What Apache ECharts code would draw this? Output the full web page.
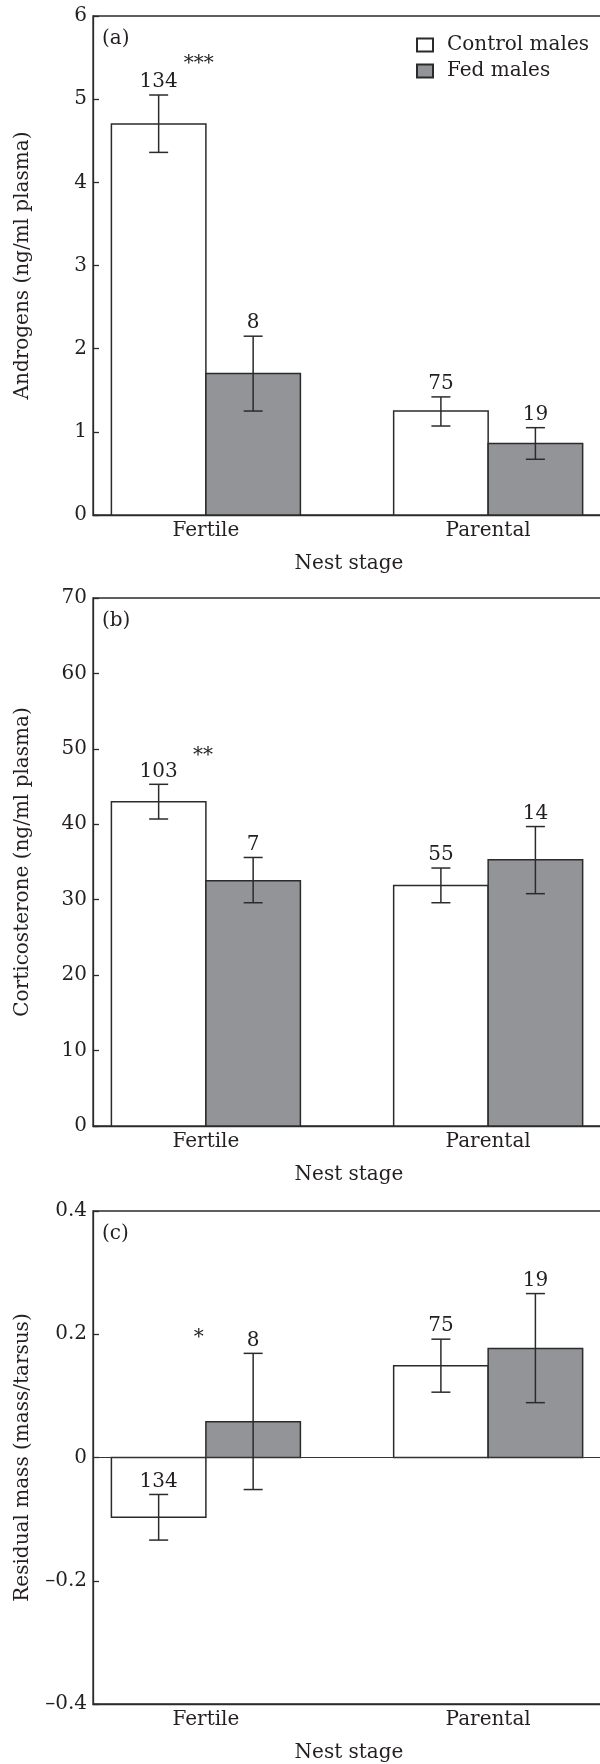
<!DOCTYPE html>
<html><head><meta charset="utf-8">
<script src="https://cdn.jsdelivr.net/npm/echarts@6/dist/echarts.min.js"></script>
<style>html,body{margin:0;padding:0;background:#fff}#c{width:600px;height:1764px}</style>
</head><body><div id="c"></div>
<script>
// ---------- data ----------
const categories = ['Fertile', 'Parental'];
const seriesNames = ['Control males', 'Fed males'];

const androgenControl = [4.70, 1.25];
const androgenControlErr = [[4.36, 5.05], [1.07, 1.42]];
const androgenFed = [1.70, 0.86];
const androgenFedErr = [[1.25, 2.15], [0.67, 1.05]];
const androgenControlN = [134, 75];
const androgenFedN = [8, 19];
const androgenTicks = [0, 1, 2, 3, 4, 5, 6];

const corticoControl = [43.0, 31.9];
const corticoControlErr = [[40.7, 45.3], [29.6, 34.2]];
const corticoFed = [32.5, 35.3];
const corticoFedErr = [[29.6, 35.6], [30.8, 39.7]];
const corticoControlN = [103, 55];
const corticoFedN = [7, 14];
const corticoTicks = [0, 10, 20, 30, 40, 50, 60, 70];

const massControl = [-0.097, 0.149];
const massControlErr = [[-0.134, -0.060], [0.106, 0.192]];
const massFed = [0.058, 0.177];
const massFedErr = [[-0.052, 0.169], [0.089, 0.266]];
const massControlN = [134, 75];
const massFedN = [8, 19];
const massTicks = [-0.4, -0.2, 0, 0.2, 0.4];

const panelLabels = ['(a)', '(b)', '(c)'];
const yTitles = ['Androgens (ng/ml plasma)', 'Corticosterone (ng/ml plasma)', 'Residual mass (mass/tarsus)'];
const xTitle = 'Nest stage';
const sigText = ['***', '**', '*'];
const sigAt = [[0.975, 5.49], [0.99, 49.7], [0.975, 0.202]];

// ---------- style ----------
const FONT = 'DejaVu Serif';
const FS = 20;
const INK = '#231f20';
const LINE = '#2b2b2b';
const GRAY = '#939498';
const BAR_W = 94.5;
const CAP = 9.5;
const X_MIN = 0.6, X_MAX = 2.414;
const grids = [
  { left: 93, top: 16, width: 512, height: 499 },
  { left: 93, top: 598, width: 512, height: 528 },
  { left: 93, top: 1211, width: 512, height: 493 }
];

const panels = [
  { c: androgenControl, ce: androgenControlErr, f: androgenFed, fe: androgenFedErr, cn: androgenControlN, fn: androgenFedN, ticks: androgenTicks },
  { c: corticoControl, ce: corticoControlErr, f: corticoFed, fe: corticoFedErr, cn: corticoControlN, fn: corticoFedN, ticks: corticoTicks },
  { c: massControl, ce: massControlErr, f: massFed, fe: massFedErr, cn: massControlN, fn: massFedN, ticks: massTicks }
];

function fmtTick(v) {
  if (v === 0) return '0';
  const s = String(Math.abs(Math.round(v * 1000) / 1000));
  return v < 0 ? '\u2013' + s : s;
}

const barRender = function (params, api) {
  const x = api.value(0), v = api.value(1), side = api.value(2);
  const p0 = api.coord([x, 0]);
  const p1 = api.coord([x, v]);
  const left = p0[0] + (side < 0 ? -BAR_W : 0);
  return {
    type: 'rect',
    shape: { x: left, y: Math.min(p0[1], p1[1]), width: BAR_W, height: Math.abs(p1[1] - p0[1]) },
    style: api.style()
  };
};

const errRender = function (params, api) {
  const x = api.value(0), lo = api.value(1), hi = api.value(2), side = api.value(3), n = api.value(4);
  const pLo = api.coord([x, lo]);
  const pHi = api.coord([x, hi]);
  const cx = pLo[0] + side * BAR_W / 2;
  const st = { stroke: LINE, lineWidth: 1.5 };
  return {
    type: 'group',
    children: [
      { type: 'line', shape: { x1: cx, y1: pLo[1], x2: cx, y2: pHi[1] }, style: st },
      { type: 'line', shape: { x1: cx - CAP, y1: pLo[1], x2: cx + CAP, y2: pLo[1] }, style: st },
      { type: 'line', shape: { x1: cx - CAP, y1: pHi[1], x2: cx + CAP, y2: pHi[1] }, style: st },
      { type: 'text', style: { text: String(n), x: cx, y: pHi[1] - 3, align: 'center', verticalAlign: 'bottom', fontSize: FS, fontFamily: FONT, fill: INK } }
    ]
  };
};

const sigRender = function (params, api) {
  const p = api.coord([api.value(0), api.value(1)]);
  return { type: 'text', style: { text: sigText[api.value(2)], x: p[0], y: p[1] - 5, align: 'center', verticalAlign: 'top', fontSize: FS, fontFamily: FONT, fill: INK } };
};

const option = {
  animation: false,
  backgroundColor: '#fff',
  textStyle: { fontFamily: FONT, color: INK },
  title: panelLabels.map((t, i) => ({
    text: t, left: grids[i].left + 9, top: grids[i].top + 13, padding: 0,
    textStyle: { fontFamily: FONT, fontSize: FS, fontWeight: 'normal', color: INK }
  })),
  legend: {
    data: seriesNames, orient: 'vertical', left: 416, top: 35, itemWidth: 16, itemHeight: 13, itemGap: 6,
    icon: 'rect', padding: 0,
    textStyle: { fontFamily: FONT, fontSize: FS, color: INK, padding: [0, 0, 0, 9] }
  },
  grid: grids.map(g => Object.assign({ show: true, outerBoundsMode: 'none', containLabel: false, borderColor: LINE, borderWidth: 1.3, backgroundColor: 'transparent' }, g)),
  xAxis: grids.map((g, i) => ({
    type: 'value', gridIndex: i, min: X_MIN, max: X_MAX,
    axisLine: { onZero: false, lineStyle: { color: LINE, width: 1.3 } },
    axisTick: { show: false }, splitLine: { show: false },
    axisLabel: { customValues: categories.map((c, k) => k + 1), formatter: v => categories[Math.round(v) - 1] || '', fontFamily: FONT, fontSize: FS, color: INK, margin: 6 },
    name: xTitle, nameLocation: 'middle', nameGap: 39,
    nameTextStyle: { fontFamily: FONT, fontSize: FS, color: INK }
  })),
  yAxis: panels.map((p, i) => ({
    type: 'value', gridIndex: i,
    min: p.ticks[0], max: p.ticks[p.ticks.length - 1], interval: p.ticks[1] - p.ticks[0],
    axisLine: { show: true, lineStyle: { color: LINE, width: 1.3 } },
    axisTick: { show: true, inside: true, length: 6, lineStyle: { color: LINE, width: 1.3 } },
    splitLine: { show: false },
    axisLabel: { formatter: fmtTick, fontFamily: FONT, fontSize: FS, color: INK, margin: 6 },
    name: yTitles[i], nameLocation: 'middle', nameGap: 60,
    nameTextStyle: { fontFamily: FONT, fontSize: FS, color: INK }
  })),
  series: []
};

panels.forEach((p, i) => {
  option.series.push({
    name: seriesNames[0], type: 'custom', xAxisIndex: i, yAxisIndex: i, z: 2,
    renderItem: barRender, encode: { x: 0, y: 1 },
    itemStyle: { color: '#ffffff', borderColor: LINE, borderWidth: 1.5 },
    data: p.c.map((v, k) => [k + 1, v, -1]),
    markLine: i === 2 ? { silent: true, symbol: 'none', label: { show: false }, lineStyle: { color: '#333', width: 1.2, type: 'solid' }, data: [{ yAxis: 0 }] } : undefined
  });
  option.series.push({
    name: seriesNames[1], type: 'custom', xAxisIndex: i, yAxisIndex: i, z: 2,
    renderItem: barRender, encode: { x: 0, y: 1 },
    itemStyle: { color: GRAY, borderColor: LINE, borderWidth: 1.5 },
    data: p.f.map((v, k) => [k + 1, v, 1])
  });
  const errData = [];
  categories.forEach((c, k) => {
    errData.push([k + 1, p.ce[k][0], p.ce[k][1], -1, p.cn[k]]);
    errData.push([k + 1, p.fe[k][0], p.fe[k][1], 1, p.fn[k]]);
  });
  option.series.push({
    name: 'err' + i, type: 'custom', xAxisIndex: i, yAxisIndex: i, z: 5, silent: true,
    renderItem: errRender, data: errData
  });
  option.series.push({
    name: 'sig' + i, type: 'custom', xAxisIndex: i, yAxisIndex: i, z: 5, silent: true,
    renderItem: sigRender, data: [[sigAt[i][0], sigAt[i][1], i]]
  });
});

const chart = echarts.init(document.getElementById('c'), null, { renderer: 'canvas' });
chart.setOption(option);
</script>
</body></html>
